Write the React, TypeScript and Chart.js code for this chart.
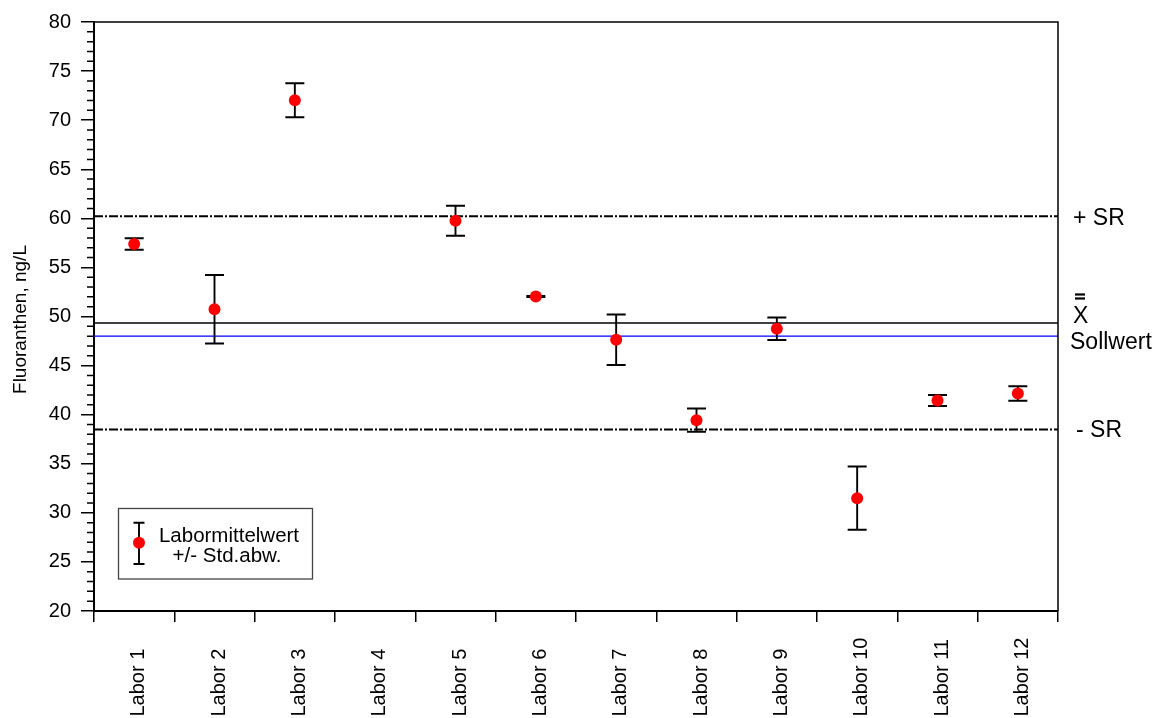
import React, { useEffect, useRef } from 'react';
import { Chart, registerables } from 'chart.js';

Chart.register(...registerables);

// Laboratories on the x axis
const labNames = ['Labor 1', 'Labor 2', 'Labor 3', 'Labor 4', 'Labor 5', 'Labor 6', 'Labor 7', 'Labor 8', 'Labor 9', 'Labor 10', 'Labor 11', 'Labor 12'];
// Lab mean values (ng/L); Labor 4 reported no value
const labMeans = [57.38, 50.74, 72.03, null, 59.75, 52.03, 47.63, 39.44, 48.75, 31.49, 41.44, 42.15];
// Standard deviations of each lab mean
const labSds = [0.59, 3.5, 1.73, null, 1.52, 0.05, 2.57, 1.18, 1.15, 3.22, 0.56, 0.74];

// Reference levels
const upperSR = 60.2;
const grandMean = 49.35;
const targetValue = 48.0;
const lowerSR = 38.5;

// Value axis
const yMin = 20;
const yMax = 80;
const yMajorStep = 5;
const yMinorStep = 1;

const yTitle = 'Fluoranthen, ng/L';
const refTexts = { upper: '+ SR', mean: 'X', target: 'Sollwert', lower: '- SR' };
const legendLines = ['Labormittelwert', '+/- Std.abw.'];

const FONT = '"Liberation Sans", Arial, Helvetica, sans-serif';

const overlayPlugin = {
  id: 'fluoranthenOverlay',
  beforeDatasetsDraw(chart: any) {
    const { ctx, chartArea } = chart;
    const xs = chart.scales.x;
    const ys = chart.scales.y;
    ctx.save();
    // horizontal reference lines
    const hLine = (v: number, color: string, width: number, dash: number[]) => {
      const y = ys.getPixelForValue(v);
      ctx.beginPath();
      ctx.setLineDash(dash);
      ctx.strokeStyle = color;
      ctx.lineWidth = width;
      ctx.moveTo(chartArea.left, y);
      ctx.lineTo(chartArea.right, y);
      ctx.stroke();
    };
    hLine(upperSR, '#000', 2, [9, 2, 2, 2]);
    hLine(lowerSR, '#000', 2, [9, 2, 2, 2]);
    hLine(grandMean, '#000', 1.5, []);
    hLine(targetValue, '#0000ff', 1.2, []);
    ctx.setLineDash([]);

    // error bars
    ctx.strokeStyle = '#000';
    labMeans.forEach((m, i) => {
      const sd = labSds[i];
      if (m === null || sd === null) return;
      const x = xs.getPixelForValue(i);
      const yt = ys.getPixelForValue(m + sd);
      const yb = ys.getPixelForValue(m - sd);
      ctx.lineWidth = 1.9;
      ctx.beginPath();
      ctx.moveTo(x, yt);
      ctx.lineTo(x, yb);
      ctx.stroke();
      ctx.lineWidth = 2;
      ctx.beginPath();
      ctx.moveTo(x - 9.5, yt);
      ctx.lineTo(x + 9.5, yt);
      ctx.moveTo(x - 9.5, yb);
      ctx.lineTo(x + 9.5, yb);
      ctx.stroke();
    });
    ctx.restore();
  },
  afterDraw(chart: any) {
    const { ctx, chartArea } = chart;
    const xs = chart.scales.x;
    const ys = chart.scales.y;
    ctx.save();
    ctx.strokeStyle = '#000';
    ctx.fillStyle = '#000';

    // frame top and right
    ctx.lineWidth = 1.5;
    ctx.beginPath();
    ctx.moveTo(chartArea.left, chartArea.top);
    ctx.lineTo(chartArea.right, chartArea.top);
    ctx.lineTo(chartArea.right, chartArea.bottom);
    ctx.stroke();

    // minor ticks on the value axis
    ctx.lineWidth = 1.5;
    ctx.beginPath();
    for (let v = yMin; v <= yMax; v += yMinorStep) {
      if (v % yMajorStep === 0) continue;
      const y = ys.getPixelForValue(v);
      ctx.moveTo(chartArea.left - 7, y);
      ctx.lineTo(chartArea.left, y);
    }
    ctx.stroke();

    // category labels, rotated, starting at the bottom edge
    ctx.font = `20px ${FONT}`;
    ctx.textAlign = 'left';
    ctx.textBaseline = 'alphabetic';
    labNames.forEach((name, i) => {
      const x = xs.getPixelForValue(i);
      ctx.save();
      ctx.translate(x + 10, 716.5);
      ctx.rotate(-Math.PI / 2);
      ctx.fillText(name, 0, 0);
      ctx.restore();
    });

    // y axis title
    ctx.save();
    ctx.font = `19px ${FONT}`;
    ctx.textAlign = 'center';
    ctx.textBaseline = 'middle';
    ctx.translate(20.5, (chartArea.top + chartArea.bottom) / 2 + 3);
    ctx.rotate(-Math.PI / 2);
    ctx.fillText(yTitle, 0, 0);
    ctx.restore();

    // labels for the reference lines
    ctx.font = `23px ${FONT}`;
    ctx.textAlign = 'left';
    ctx.textBaseline = 'alphabetic';
    ctx.fillText(refTexts.upper, 1073, ys.getPixelForValue(upperSR) + 9);
    const meanY = ys.getPixelForValue(grandMean);
    ctx.fillText(refTexts.mean, 1073, meanY);
    ctx.fillRect(1075, meanY - 29.5, 10, 2.2);
    ctx.fillRect(1075, meanY - 25.5, 10, 2.2);
    ctx.fillText(refTexts.target, 1070, ys.getPixelForValue(targetValue) + 12.5);
    ctx.fillText(refTexts.lower, 1076, ys.getPixelForValue(lowerSR) + 8);

    // legend box
    ctx.lineWidth = 1.3;
    ctx.strokeStyle = '#444';
    ctx.strokeRect(118.5, 508.5, 194, 70.5);
    ctx.strokeStyle = '#000';
    ctx.lineWidth = 1.9;
    ctx.beginPath();
    ctx.moveTo(139, 522.7);
    ctx.lineTo(139, 564);
    ctx.stroke();
    ctx.lineWidth = 2;
    ctx.beginPath();
    ctx.moveTo(133.5, 522.7);
    ctx.lineTo(144.5, 522.7);
    ctx.moveTo(133.5, 564);
    ctx.lineTo(144.5, 564);
    ctx.stroke();
    ctx.fillStyle = '#ff0000';
    ctx.beginPath();
    ctx.arc(139, 542.7, 6, 0, Math.PI * 2);
    ctx.fill();
    ctx.fillStyle = '#000';
    ctx.font = `20.5px ${FONT}`;
    ctx.textAlign = 'center';
    ctx.fillText(legendLines[0], 229, 541.7);
    ctx.fillText(legendLines[1], 227, 561.7);

    ctx.restore();
  },
};

export default function App() {
  const canvasRef = useRef<HTMLCanvasElement | null>(null);

  useEffect(() => {
    if (!canvasRef.current) return;
    const chart = new Chart(canvasRef.current, {
      type: 'line',
      data: {
        labels: labNames,
        datasets: [
          {
            label: legendLines[0],
            data: labMeans,
            showLine: false,
            pointRadius: 6,
            pointHoverRadius: 6,
            pointBackgroundColor: '#ff0000',
            pointBorderWidth: 0,
            borderColor: '#ff0000',
          },
        ],
      },
      options: {
        responsive: false,
        animation: false,
        devicePixelRatio: 1,
        layout: { padding: { top: 20.5, right: 103, left: 0, bottom: 0 } },
        plugins: {
          legend: { display: false },
          tooltip: { enabled: false },
          title: { display: false },
        },
        scales: {
          x: {
            type: 'category',
            offset: true,
            grid: {
              offset: true,
              drawOnChartArea: false,
              drawTicks: true,
              tickLength: 11,
              color: '#000',
              lineWidth: 1.5,
            },
            border: { display: true, color: '#000', width: 2 },
            ticks: { display: false },
            afterFit: (scale: any) => {
              scale.height = 107;
            },
          },
          y: {
            type: 'linear',
            min: yMin,
            max: yMax,
            grid: {
              drawOnChartArea: false,
              drawTicks: true,
              tickLength: 13,
              color: '#000',
              lineWidth: 1.5,
            },
            border: { display: true, color: '#000', width: 2 },
            ticks: {
              stepSize: yMajorStep,
              padding: 10,
              color: '#000',
              font: { family: FONT, size: 20 },
              autoSkip: false,
            },
            afterFit: (scale: any) => {
              scale.width = 94;
            },
          },
        },
      },
      plugins: [overlayPlugin],
    });
    return () => chart.destroy();
  }, []);

  return (
    <div style={{ position: 'absolute', left: 0, top: 0, width: 1161, height: 718, background: '#fff' }}>
      <canvas ref={canvasRef} width={1161} height={718} style={{ display: 'block', width: 1161, height: 718 }} />
    </div>
  );
}
